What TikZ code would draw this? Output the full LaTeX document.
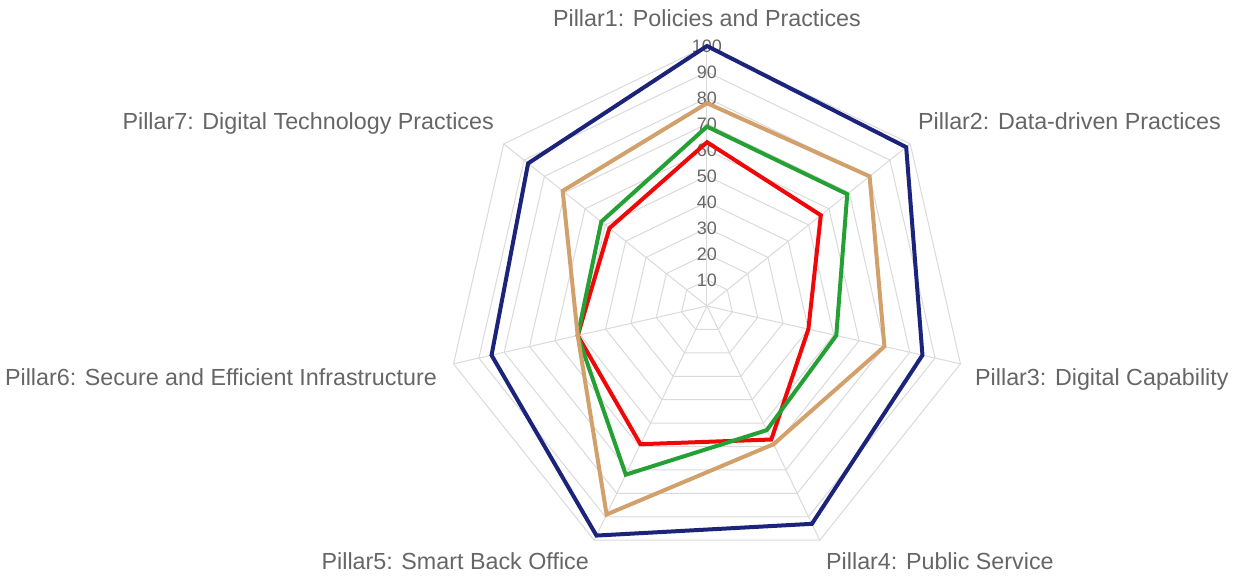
\documentclass[tikz,border=0pt]{standalone}
\usepackage{fontspec}
\setmainfont{Liberation Sans}

\definecolor{chartnavy}{RGB}{27,35,122}
\definecolor{charttan}{RGB}{210,160,106}
\definecolor{chartgreen}{RGB}{36,160,52}
\definecolor{chartred}{RGB}{240,8,8}
\definecolor{gridgray}{RGB}{218,218,218}
\definecolor{labelgray}{RGB}{102,102,102}

\begin{document}
\begin{tikzpicture}[x=1pt,y=1pt]
	\tikzstyle{gridline} = [draw=gridgray, line width=1pt];
	\tikzstyle{series} = [line width=4pt, line join=miter];
	\tikzstyle{pillar} = [inner sep=0pt, text=labelgray, font=\fontsize{23.3}{28}\selectfont];
	\tikzstyle{tick} = [inner sep=0pt, text=labelgray, font=\fontsize{18}{21}\selectfont];
	\useasboundingbox (-707,-270) rectangle (528,306);

	% radial unit: 2.6pt per point of the score
	\begin{scope}[x=2.6pt,y=2.6pt]
		\foreach \r in {10,20,...,100}
			\draw [gridline] (90:\r) -- (38.571:\r) -- (-12.857:\r) -- (-64.286:\r) -- (-115.714:\r) -- (-167.143:\r) -- (141.429:\r) -- cycle;
		\foreach \a in {90,38.571,-12.857,-64.286,-115.714,-167.143,141.429}
			\draw [gridline] (0,0) -- (\a:100);
		\foreach \r in {10,20,...,100}
			\draw node [tick] (tick\r) at (0,\r) {\r};

		\draw [series, draw=chartnavy] (90:100) -- (38.571:98) -- (-12.857:85) -- (-64.286:93) -- (-115.714:98) -- (-167.143:85) -- (141.429:88) -- cycle;
		\draw [series, draw=chartred] (90:63) -- (38.571:56) -- (-12.857:40) -- (-64.286:57) -- (-115.714:59) -- (-167.143:51) -- (141.429:48) -- cycle;
		\draw [series, draw=chartgreen] (90:69) -- (38.571:69) -- (-12.857:51) -- (-64.286:53) -- (-115.714:72) -- (-167.143:51) -- (141.429:52) -- cycle;
		\draw [series, draw=charttan] (90:78) -- (38.571:80) -- (-12.857:70) -- (-64.286:59) -- (-115.714:89) -- (-167.143:51) -- (141.429:71) -- cycle;
	\end{scope}

	\draw node [pillar, anchor=base] (p1) at (0,279) {Pillar1: Policies and Practices};
	\draw node [pillar, anchor=base west] (p2) at (211,176) {Pillar2: Data-driven Practices};
	\draw node [pillar, anchor=base west] (p3) at (268,-79) {Pillar3: Digital Capability};
	\draw node [pillar, anchor=base west] (p4) at (119,-263) {Pillar4: Public Service};
	\draw node [pillar, anchor=base east] (p5) at (-118,-263) {Pillar5: Smart Back Office};
	\draw node [pillar, anchor=base east] (p6) at (-270,-79) {Pillar6: Secure and Efficient Infrastructure};
	\draw node [pillar, anchor=base east] (p7) at (-213,176) {Pillar7: Digital Technology Practices};
\end{tikzpicture}
\end{document}
